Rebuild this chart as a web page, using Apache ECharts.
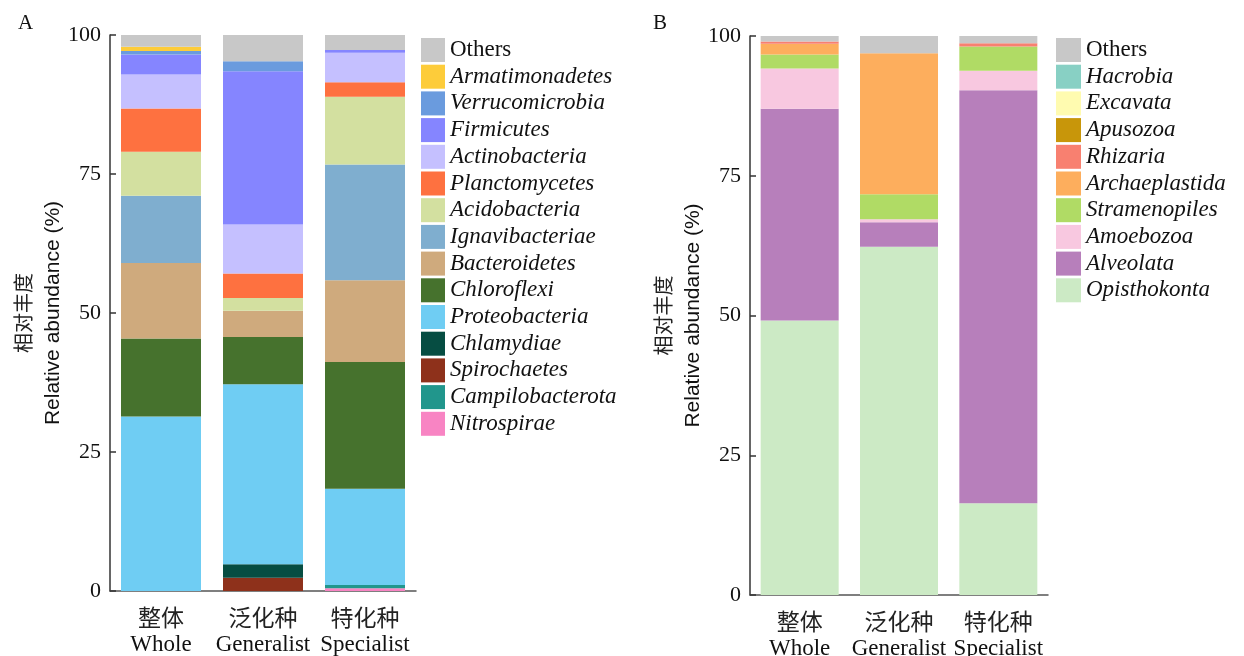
<!DOCTYPE html>
<html>
<head>
<meta charset="utf-8">
<title>Relative abundance</title>
<script src="https://cdn.jsdelivr.net/npm/echarts@6/dist/echarts.min.js"></script>
<style>
  html, body { margin: 0; padding: 0; background: #fff; }
  #chart { width: 1244px; height: 656px; }
</style>
</head>
<body>
<div id="chart"></div>
<script>
// Groups along the x axis
const groupsCn = ['整体', '泛化种', '特化种'];
const groupsEn = ['Whole', 'Generalist', 'Specialist'];
const yTicks = [0, 25, 50, 75, 100];

// Panel A: bacterial phyla, listed bottom of the stack first (% per group)
const bacNames = ['Nitrospirae', 'Campilobacterota', 'Spirochaetes', 'Chlamydiae', 'Proteobacteria',
  'Chloroflexi', 'Bacteroidetes', 'Ignavibacteriae', 'Acidobacteria', 'Planctomycetes',
  'Actinobacteria', 'Firmicutes', 'Verrucomicrobia', 'Armatimonadetes', 'Others'];
const Nitrospirae      = [0,    0,    0.5];
const Campilobacterota = [0,    0,    0.6];
const Spirochaetes     = [0,    2.4,  0];
const Chlamydiae       = [0,    2.4,  0];
const Proteobacteria   = [31.4, 32.4, 17.3];
const Chloroflexi      = [14.0, 8.5,  22.8];
const Bacteroidetes    = [13.6, 4.7,  14.7];
const Ignavibacteriae  = [12.1, 0,    20.8];
const Acidobacteria    = [7.9,  2.3,  12.2];
const Planctomycetes   = [7.8,  4.4,  2.6];
const Actinobacteria   = [6.1,  8.8,  5.3];
const Firmicutes       = [3.6,  27.6, 0.5];
const Verrucomicrobia  = [0.6,  1.8,  0];
const Armatimonadetes  = [0.8,  0,    0];
const OthersA          = [2.1,  4.7,  2.7];
const bacValues = [Nitrospirae, Campilobacterota, Spirochaetes, Chlamydiae, Proteobacteria,
  Chloroflexi, Bacteroidetes, Ignavibacteriae, Acidobacteria, Planctomycetes,
  Actinobacteria, Firmicutes, Verrucomicrobia, Armatimonadetes, OthersA];
const bacColors = ['#F884C3', '#21968C', '#8E311B', '#064D42', '#6FCDF3',
  '#46722D', '#CFAA7D', '#7FAECF', '#D3E0A0', '#FE7140',
  '#C5C0FF', '#8585FF', '#6A9BDE', '#FDCC3A', '#C8C8C8'];

// Panel B: eukaryotic supergroups, bottom of the stack first (% per group)
const eukNames = ['Opisthokonta', 'Alveolata', 'Amoebozoa', 'Stramenopiles', 'Archaeplastida',
  'Rhizaria', 'Apusozoa', 'Excavata', 'Hacrobia', 'Others'];
const Opisthokonta   = [49.1, 62.3, 16.4];
const Alveolata      = [37.9, 4.4,  73.9];
const Amoebozoa      = [7.2,  0.5,  3.5];
const Stramenopiles  = [2.5,  4.5,  4.3];
const Archaeplastida = [1.9,  25.2, 0];
const Rhizaria       = [0.4,  0,    0.6];
const Apusozoa       = [0,    0,    0];
const Excavata       = [0,    0,    0];
const Hacrobia       = [0,    0,    0];
const OthersB        = [1.0,  3.1,  1.3];
const eukValues = [Opisthokonta, Alveolata, Amoebozoa, Stramenopiles, Archaeplastida,
  Rhizaria, Apusozoa, Excavata, Hacrobia, OthersB];
const eukColors = ['#CCEAC5', '#B77FBB', '#F8C8E0', '#B0DB65', '#FDAE5D',
  '#F88070', '#C8960A', '#FFFBB0', '#88D0C4', '#C8C8C8'];

const serif = '"Liberation Serif", "Times New Roman", serif';
const sans = '"Liberation Sans", Arial, sans-serif';
const cjk = '"Noto Sans CJK SC", sans-serif';

function xAxisFor(gridIndex) {
  return {
    type: 'category', gridIndex, data: groupsEn,
    axisLine: { lineStyle: { color: '#555', width: 1.5 } },
    axisTick: { show: false },
    axisLabel: {
      margin: 13,
      interval: 0,
      formatter: (v, i) => '{c|' + groupsCn[i] + '}\n{e|' + v + '}',
      rich: {
        c: { fontFamily: cjk, fontSize: 23, color: '#222', lineHeight: 27 },
        e: { fontFamily: serif, fontSize: 23, color: '#111', lineHeight: 27 }
      }
    }
  };
}
function yAxisFor(gridIndex) {
  return {
    type: 'value', gridIndex, min: yTicks[0], max: yTicks[yTicks.length - 1], interval: 25,
    splitLine: { show: false },
    axisLine: { show: true, lineStyle: { color: '#333', width: 1.5 } },
    axisTick: { show: true, inside: true, length: 6, lineStyle: { color: '#333', width: 1.5 } },
    axisLabel: { fontFamily: serif, fontSize: 22, color: '#111', margin: 9 },
    name: '{c|相对丰度}\n{e|Relative abundance (%)}',
    nameLocation: 'middle', nameRotate: 90, nameGap: 42,
    nameTextStyle: {
      rich: {
        c: { fontFamily: cjk, fontSize: 20, color: '#222', lineHeight: 30 },
        e: { fontFamily: sans, fontSize: 21, color: '#111', lineHeight: 30 }
      }
    }
  };
}

const legendText = {
  formatter: n => n === 'Others' ? '{o|' + n + '}' : '{i|' + n + '}',
  textStyle: {
    lineHeight: 24,
    rich: {
      o: { fontFamily: serif, fontSize: 23, color: '#111', fontStyle: 'normal' },
      i: { fontFamily: serif, fontSize: 23, color: '#111', fontStyle: 'italic' }
    }
  }
};

const series = [];
bacNames.forEach((n, k) => series.push({
  name: n, type: 'bar', stack: 'bac', xAxisIndex: 0, yAxisIndex: 0,
  barWidth: 80, data: bacValues[k], itemStyle: { color: bacColors[k] }
}));
eukNames.forEach((n, k) => series.push({
  name: n, type: 'bar', stack: 'euk', xAxisIndex: 1, yAxisIndex: 1,
  barWidth: 78, data: eukValues[k], itemStyle: { color: eukColors[k] }
}));

const chart = echarts.init(document.getElementById('chart'), null, { renderer: 'canvas' });
chart.setOption({
  animation: false,
  backgroundColor: '#fff',
  title: [
    { text: 'A', left: 13, top: 8, textStyle: { fontFamily: serif, fontSize: 21, fontWeight: 'normal', color: '#111' } },
    { text: 'B', left: 648, top: 8, textStyle: { fontFamily: serif, fontSize: 21, fontWeight: 'normal', color: '#111' } }
  ],
  grid: [
    { left: 110, top: 35, width: 306, height: 556, outerBoundsMode: 'none' },
    { left: 750, top: 36, width: 298, height: 559, outerBoundsMode: 'none' }
  ],
  xAxis: [xAxisFor(0), xAxisFor(1)],
  yAxis: [yAxisFor(0), yAxisFor(1)],
  legend: [
    Object.assign({
      orient: 'vertical', left: 416, top: 33, itemWidth: 24, itemHeight: 24, itemGap: 2.7,
      icon: 'rect', selectedMode: false, data: bacNames.slice().reverse()
    }, legendText),
    Object.assign({
      orient: 'vertical', left: 1051, top: 33, itemWidth: 25, itemHeight: 24, itemGap: 2.7,
      icon: 'rect', selectedMode: false, data: eukNames.slice().reverse()
    }, legendText)
  ],
  series
});
</script>
</body>
</html>
